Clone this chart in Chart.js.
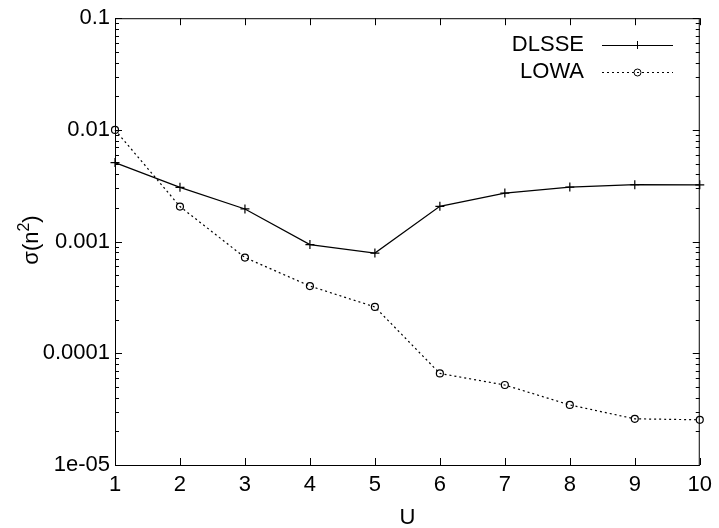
<!DOCTYPE html>
<html>
<head>
<meta charset="utf-8">
<script src="https://cdn.jsdelivr.net/npm/chart.js@4.4.1/dist/chart.umd.min.js"></script>
<style>
body { margin: 0; background: #fff; }
#wrap { width: 719px; height: 528px; }
</style>
</head>
<body>
<div id="wrap"><canvas id="chart"></canvas></div>
<script>
// values
const uValues = [1, 2, 3, 4, 5, 6, 7, 8, 9, 10];
const dlsse = [0.0051, 0.00306, 0.00196, 0.00094, 0.00079, 0.00207, 0.00272, 0.00308, 0.00323, 0.00322];
const lowa = [0.0100, 0.00206, 0.00072, 0.00040, 0.00026, 0.000066, 0.000052, 0.0000345, 0.0000259, 0.0000254];
const yMajor = [0.1, 0.01, 0.001, 0.0001, 0.00001];
const yMajorLabels = ['0.1', '0.01', '0.001', '0.0001', '1e-05'];
const xTicks = [1, 2, 3, 4, 5, 6, 7, 8, 9, 10];

const FONT = '"Liberation Sans", Arial, sans-serif';

function pts(ys) {
    return uValues.map(function (u, i) { return {x: u, y: ys[i]}; });
}

// gnuplot style frame + inward ticks on all four sides
const framePlugin = {
    id: 'frame',
    afterDatasetsDraw: function (chart) {
        const ctx = chart.ctx, a = chart.chartArea;
        const xs = chart.scales.x, ys = chart.scales.y;
        ctx.save();
        ctx.strokeStyle = '#000';
        ctx.lineWidth = 1;
        ctx.strokeRect(a.left + 0.5, a.top + 0.5, a.right - a.left - 1, a.bottom - a.top);
        ctx.beginPath();
        xTicks.forEach(function (v) {
            const px = Math.round(xs.getPixelForValue(v)) + 0.5;
            ctx.moveTo(px, a.bottom); ctx.lineTo(px, a.bottom - 7);
            ctx.moveTo(px, a.top); ctx.lineTo(px, a.top + 7);
        });
        ys.ticks.forEach(function (t) {
            const py = Math.round(ys.getPixelForValue(t.value)) + 0.5;
            const len = t.major ? 7 : 4;
            ctx.moveTo(a.left, py); ctx.lineTo(a.left + len, py);
            ctx.moveTo(a.right, py); ctx.lineTo(a.right - len, py);
        });
        ctx.stroke();
        ctx.restore();
    },
    afterDraw: function (chart) {
        const ctx = chart.ctx;
        ctx.save();
        // y axis title with a real superscript
        ctx.fillStyle = '#000';
        ctx.translate(38, 240);
        ctx.rotate(-Math.PI / 2);
        ctx.textBaseline = 'alphabetic';
        ctx.textAlign = 'left';
        const big = '22px ' + FONT, small = '16px ' + FONT;
        ctx.font = big;
        const w1 = ctx.measureText('σ(n').width;
        const w3 = ctx.measureText(')').width;
        ctx.font = small;
        const w2 = ctx.measureText('2').width;
        let x0 = -(w1 + w2 + w3) / 2;
        ctx.font = big;
        ctx.fillText('σ(n', x0, 0);
        ctx.font = small;
        ctx.fillText('2', x0 + w1, -9);
        ctx.font = big;
        ctx.fillText(')', x0 + w1 + w2, 0);
        ctx.restore();

        // key in the top right corner
        ctx.save();
        ctx.font = '22px ' + FONT;
        ctx.textAlign = 'right';
        ctx.textBaseline = 'middle';
        chart.data.datasets.forEach(function (ds, i) {
            const y = 45 + i * 27;
            ctx.fillStyle = '#000';
            ctx.fillText(ds.label, 584, y);
            ctx.strokeStyle = ds.borderColor;
            ctx.lineWidth = 1;
            ctx.setLineDash(ds.borderDash || []);
            ctx.beginPath();
            ctx.moveTo(602, y + 0.5); ctx.lineTo(673, y + 0.5);
            ctx.stroke();
            ctx.setLineDash([]);
            ctx.beginPath();
            if (ds.pointStyle === 'cross') {
                ctx.moveTo(637.5, y - 4); ctx.lineTo(637.5, y + 4);
                ctx.moveTo(633.5, y + 0.5); ctx.lineTo(641.5, y + 0.5);
            } else {
                ctx.arc(637.5, y + 0.5, 3.5, 0, Math.PI * 2);
            }
            ctx.stroke();
        });
        ctx.restore();
    }
};

new Chart(document.getElementById('chart'), {
    type: 'line',
    data: {
        datasets: [
            {
                label: 'DLSSE',
                data: pts(dlsse),
                borderColor: '#000',
                borderWidth: 1.2,
                pointStyle: 'cross',
                pointRadius: 4.5,
                pointBorderColor: '#000',
                pointBorderWidth: 1.2,
                fill: false,
                clip: false
            },
            {
                label: 'LOWA',
                data: pts(lowa),
                borderColor: '#000',
                borderWidth: 1.2,
                borderDash: [2, 3],
                pointStyle: 'circle',
                pointRadius: 3.5,
                pointBorderColor: '#000',
                pointBackgroundColor: 'rgba(0,0,0,0)',
                pointBorderWidth: 1.2,
                fill: false,
                clip: false
            }
        ]
    },
    options: {
        responsive: true,
        maintainAspectRatio: false,
        animation: false,
        events: [],
        layout: { padding: { top: 16, right: 14, left: 0, bottom: 0 } },
        plugins: { legend: { display: false }, tooltip: { enabled: false } },
        scales: {
            x: {
                type: 'linear',
                min: 1,
                max: 10,
                afterFit: function (s) { s.height = 63; },
                afterBuildTicks: function (s) { s.ticks = xTicks.map(function (v) { return {value: v}; }); },
                grid: { display: false, drawTicks: false },
                border: { display: false },
                ticks: { color: '#000', font: { family: FONT, size: 22 }, padding: 7, autoSkip: false, maxRotation: 0 },
                title: { display: true, text: 'U', color: '#000', font: { family: FONT, size: 22 }, padding: { top: 0, bottom: -3 } }
            },
            y: {
                type: 'logarithmic',
                min: 0.00001,
                max: 0.1,
                afterFit: function (s) { s.width = 115; },
                afterBuildTicks: function (s) {
                    const t = [];
                    for (let e = -5; e < -1; e++) {
                        for (let m = 1; m < 10; m++) {
                            t.push({value: m * Math.pow(10, e), major: m === 1});
                        }
                    }
                    t.push({value: 0.1, major: true});
                    s.ticks = t;
                },
                grid: { display: false, drawTicks: false },
                border: { display: false },
                ticks: {
                    color: '#000',
                    font: { family: FONT, size: 22 },
                    padding: 5,
                    autoSkip: false,
                    callback: function (v) {
                        const i = yMajor.findIndex(function (m) { return Math.abs(m - v) / m < 1e-6; });
                        return i >= 0 ? yMajorLabels[i] : '';
                    }
                },
                title: { display: false }
            }
        }
    },
    plugins: [framePlugin]
});
</script>
</body>
</html>
